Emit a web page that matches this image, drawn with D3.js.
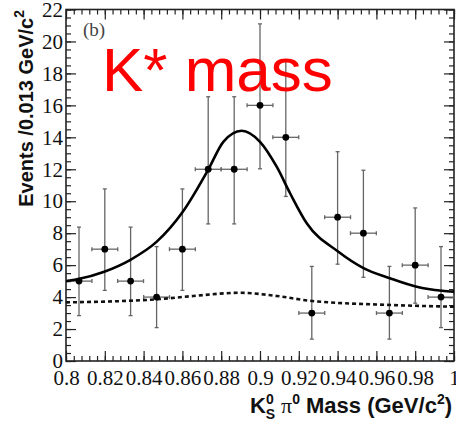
<!DOCTYPE html>
<html>
<head>
<meta charset="utf-8">
<script src="https://cdn.jsdelivr.net/npm/d3@7"></script>
<style>
  body { margin: 0; background: #fff; }
  svg { display: block; }
</style>
</head>
<body>
<script>
// bin centres (GeV/c^2), bins of 0.2/15
var mass = [0.8067, 0.82, 0.8333, 0.8467, 0.86, 0.8733, 0.8867, 0.9,
            0.9133, 0.9267, 0.94, 0.9533, 0.9667, 0.98, 0.9933];
var events = [5, 7, 5, 4, 7, 12, 12, 16, 14, 3, 9, 8, 3, 6, 4];
var errHi = [3.38, 3.77, 3.38, 3.16, 3.77, 4.54, 4.54, 5.1, 4.83, 2.92, 4.1, 3.94, 2.92, 3.58, 3.16];
var errLo = [2.16, 2.58, 2.16, 1.91, 2.58, 3.42, 3.42, 3.97, 3.7, 1.63, 2.94, 2.76, 1.63, 2.38, 1.91];
var halfBin = 0.00667;

// total fit
var fitMass = [0.8, 0.8063, 0.8197, 0.833, 0.8468, 0.8602, 0.8734, 0.8811, 0.8906,
               0.9, 0.9086, 0.9155, 0.9241, 0.9404, 0.9536, 0.967, 0.9808, 0.9938, 1.0];
var fitVal = [5.0, 5.13, 5.59, 6.32, 7.47, 9.34, 12.0, 13.72, 14.41,
              13.72, 12.16, 10.5, 8.62, 6.84, 5.8, 5.18, 4.65, 4.4, 4.34];
// background component (dotted)
var bkgMass = [0.8, 0.8468, 0.8656, 0.8897, 0.9086, 0.9258, 0.9687, 1.0];
var bkgVal = [3.67, 3.86, 4.07, 4.27, 4.07, 3.77, 3.5, 3.4];

var xMajor = d3.range(0, 11).map(function(i) { return 0.8 + i * 0.02; });
var xMinor = d3.range(0, 51).map(function(i) { return 0.8 + i * 0.004; });
var yMajor = d3.range(0, 23, 2);
var yMinor = d3.range(0, 22.5, 0.5);

var width = 456, height = 423;
var margin = {top: 9.5, right: 2, bottom: 62, left: 66};

var svg = d3.select("body").append("svg")
    .attr("width", width)
    .attr("height", height);

var x = d3.scaleLinear().domain([0.8, 1.0]).range([margin.left, width - margin.right]);
var y = d3.scaleLinear().domain([0, 22]).range([height - margin.bottom, margin.top]);

var fmt = d3.format(".2~f");
var axisCol = "#222";

function styleAxis(g) {
  g.select(".domain").remove();
  g.selectAll("line").attr("stroke", axisCol).attr("stroke-width", 1.2);
  g.selectAll("text")
    .attr("fill", "#111")
    .style("font-family", "'Liberation Serif', 'Times New Roman', serif")
    .style("font-size", "21px");
}

// bottom
svg.append("g").attr("transform", "translate(0," + y(0) + ")")
  .call(d3.axisBottom(x).tickValues(xMinor).tickSize(-5).tickFormat(""))
  .call(styleAxis);
svg.append("g").attr("transform", "translate(0," + y(0) + ")")
  .call(d3.axisBottom(x).tickValues(xMajor).tickSizeInner(-10).tickSizeOuter(0)
        .tickPadding(9).tickFormat(fmt))
  .call(styleAxis);
// top
svg.append("g").attr("transform", "translate(0," + y(22) + ")")
  .call(d3.axisTop(x).tickValues(xMinor).tickSize(-5).tickFormat(""))
  .call(styleAxis);
svg.append("g").attr("transform", "translate(0," + y(22) + ")")
  .call(d3.axisTop(x).tickValues(xMajor).tickSize(-10).tickFormat(""))
  .call(styleAxis);
// left
svg.append("g").attr("transform", "translate(" + x(0.8) + ",0)")
  .call(d3.axisLeft(y).tickValues(yMinor).tickSize(-5).tickFormat(""))
  .call(styleAxis);
svg.append("g").attr("transform", "translate(" + x(0.8) + ",0)")
  .call(d3.axisLeft(y).tickValues(yMajor).tickSizeInner(-10).tickSizeOuter(0)
        .tickPadding(3).tickFormat(d3.format("d")))
  .call(styleAxis);
// right
svg.append("g").attr("transform", "translate(" + x(1.0) + ",0)")
  .call(d3.axisRight(y).tickValues(yMinor).tickSize(-5).tickFormat(""))
  .call(styleAxis);
svg.append("g").attr("transform", "translate(" + x(1.0) + ",0)")
  .call(d3.axisRight(y).tickValues(yMajor).tickSize(-10).tickFormat(""))
  .call(styleAxis);

// frame
svg.append("rect")
  .attr("x", x(0.8)).attr("y", y(22))
  .attr("width", x(1.0) - x(0.8)).attr("height", y(0) - y(22))
  .attr("fill", "none").attr("stroke", axisCol).attr("stroke-width", 1.6);

// error bars
var pts = mass.map(function(m, i) {
  return {m: m, v: events[i], hi: errHi[i], lo: errLo[i]};
});
var eb = svg.append("g").attr("stroke", "#666").attr("stroke-width", 1.3);
var yTopClip = y(22);

pts.forEach(function(d) {
  var yHi = Math.max(y(d.v + d.hi), yTopClip);
  var yLo = y(Math.max(d.v - d.lo, 0));
  eb.append("line").attr("x1", x(d.m)).attr("x2", x(d.m)).attr("y1", yHi).attr("y2", yLo);
  if (y(d.v + d.hi) >= yTopClip) {
    eb.append("line").attr("x1", x(d.m) - 2).attr("x2", x(d.m) + 2).attr("y1", yHi).attr("y2", yHi);
  }
  eb.append("line").attr("x1", x(d.m) - 2).attr("x2", x(d.m) + 2).attr("y1", yLo).attr("y2", yLo);
  eb.append("line").attr("x1", x(d.m - halfBin)).attr("x2", x(d.m + halfBin))
    .attr("y1", y(d.v)).attr("y2", y(d.v));
  eb.append("line").attr("x1", x(d.m - halfBin)).attr("x2", x(d.m - halfBin))
    .attr("y1", y(d.v) - 2).attr("y2", y(d.v) + 2);
  eb.append("line").attr("x1", x(d.m + halfBin)).attr("x2", x(d.m + halfBin))
    .attr("y1", y(d.v) - 2).attr("y2", y(d.v) + 2);
});

// curves
var line = d3.line()
  .x(function(d) { return x(d[0]); })
  .y(function(d) { return y(d[1]); })
  .curve(d3.curveMonotoneX);

svg.append("path")
  .datum(bkgMass.map(function(m, i) { return [m, bkgVal[i]]; }))
  .attr("d", line)
  .attr("fill", "none").attr("stroke", "#111")
  .attr("stroke-width", 2.6).attr("stroke-dasharray", "4,3");

svg.append("path")
  .datum(fitMass.map(function(m, i) { return [m, fitVal[i]]; }))
  .attr("d", line)
  .attr("fill", "none").attr("stroke", "#000").attr("stroke-width", 2.6);

// points
svg.append("g").selectAll("circle")
  .data(pts)
  .enter().append("circle")
  .attr("cx", function(d) { return x(d.m); })
  .attr("cy", function(d) { return y(d.v); })
  .attr("r", 3.4)
  .attr("fill", "#000");

// labels
svg.append("text")
  .attr("x", 83).attr("y", 36)
  .attr("fill", "#444")
  .style("font-family", "'Liberation Serif', serif")
  .style("font-size", "19px")
  .text("(b)");

svg.append("text")
  .attr("x", 102).attr("y", 91)
  .attr("fill", "#ff0000")
  .style("font-family", "'Liberation Sans', Arial, sans-serif")
  .style("font-size", "62px")
  .text("K* mass");

// y title
var yt = svg.append("text")
  .attr("transform", "translate(33,10) rotate(-90)")
  .attr("text-anchor", "end")
  .attr("fill", "#111")
  .style("font-family", "'Liberation Sans', Arial, sans-serif")
  .style("font-weight", "bold")
  .style("font-size", "20px");
yt.append("tspan").text("Events /0.013 GeV/c");
yt.append("tspan").attr("dy", -9).style("font-size", "14px").text("2");

// x title
var xt = svg.append("text")
  .attr("x", 452).attr("y", 413)
  .attr("text-anchor", "end")
  .attr("fill", "#111")
  .style("font-family", "'Liberation Sans', Arial, sans-serif")
  .style("font-weight", "bold")
  .style("font-size", "22px");
xt.append("tspan").text("K");
xt.append("tspan").attr("dy", -9).style("font-size", "14px").text("0");
xt.append("tspan").attr("dx", -8).attr("dy", 15).style("font-size", "14px").text("S");
xt.append("tspan").attr("dy", -6).attr("dx", 6)
  .style("font-family", "'Liberation Serif', serif").style("font-weight", "normal").text("π");
xt.append("tspan").attr("dy", -9).style("font-size", "14px").text("0");
xt.append("tspan").attr("dy", 9).text(" Mass (GeV/c");
xt.append("tspan").attr("dy", -9).style("font-size", "14px").text("2");
xt.append("tspan").attr("dy", 9).text(")");
</script>
</body>
</html>
